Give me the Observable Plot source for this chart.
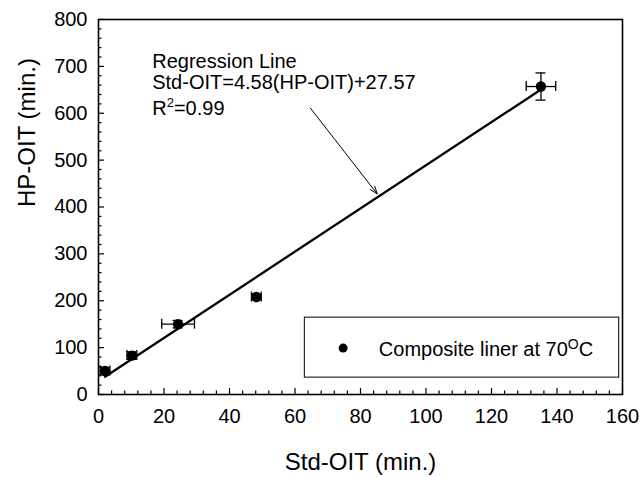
<!DOCTYPE html>
<html>
<head>
<meta charset="utf-8">
<script src="https://cdn.jsdelivr.net/npm/d3@7"></script>
<script src="https://cdn.jsdelivr.net/npm/@observablehq/plot@0.6"></script>
<style>
  html, body { margin: 0; padding: 0; background: #fff; }
  #chart { width: 641px; height: 477px; }
</style>
</head>
<body>
<div id="chart"></div>
<script>
// ---- data ----
const stdOIT = [2, 10.2, 24.3, 48.2, 135.1];      // x (min.)
const hpOIT  = [50, 83, 150, 208, 657];           // y (min.)
const stdErr = [1.5, 1.5, 5, 1.5, 4.5];           // x error
const hpErr  = [8, 8, 8, 6, 29];                  // y error

const regX = [2, 135];
const regY = [38, 650];

const arrowFrom = [64.7, 611];
const arrowTo   = [85.1, 428];

const annotText = ["Regression Line", "Std-OIT=4.58(HP-OIT)+27.57", "R²=0.99"];
const annotX = [16.4, 16.4, 16.4];
const annotY = [697, 651, 597];

const legendBox = [63, 159, 36, 164];   // x1, x2, y1, y2
const legendDot = [74.7, 99];
const legendLabel = "Composite liner at 70ᴼC";
const legendLabelPos = [85.6, 95];

const xTicks = [0, 20, 40, 60, 80, 100, 120, 140, 160];
const yTicks = [0, 100, 200, 300, 400, 500, 600, 700, 800];
const xTitle = "Std-OIT (min.)";
const yTitle = "HP-OIT (min.)";

const pts = stdOIT.map((x, i) => ({x, y: hpOIT[i], ex: stdErr[i], ey: hpErr[i]}));
const reg = regX.map((x, i) => ({x, y: regY[i]}));
const xMinor = d3.range(0, 161, 4).filter(v => v % 20 !== 0);
const yMinor = d3.range(0, 801, 20).filter(v => v % 100 !== 0);

const font = "'Liberation Sans', Arial, Helvetica, sans-serif";

const svg = Plot.plot({
  width: 641,
  height: 477,
  marginLeft: 98,
  marginRight: 19,
  marginTop: 19,
  marginBottom: 83,
  x: {domain: [0, 160]},
  y: {domain: [0, 800]},
  style: {fontFamily: font, fontSize: "20px", color: "black", background: "white"},
  marks: [
    // legend box
    Plot.rect([legendBox], {x1: d => d[0], x2: d => d[1], y1: d => d[2], y2: d => d[3], fill: "white", stroke: "black", strokeWidth: 1}),
    Plot.dot([legendDot], {x: d => d[0], y: d => d[1], r: 4.5, fill: "black"}),
    Plot.text([legendLabelPos], {x: d => d[0], y: d => d[1], text: () => legendLabel, textAnchor: "start", lineAnchor: "middle", fontSize: 20}),
    // ticks
    Plot.ruleX(xTicks, {x: d => d, y1: 0, y2: 0, insetTop: -6, insetBottom: 0, stroke: "black", strokeWidth: 1.2}),
    Plot.ruleX(xMinor, {x: d => d, y1: 0, y2: 0, insetTop: -3.5, insetBottom: 0, stroke: "black", strokeWidth: 1.2}),
    Plot.ruleY(yTicks, {y: d => d, x1: 0, x2: 0, insetLeft: 0, insetRight: -6, stroke: "black", strokeWidth: 1.2}),
    Plot.ruleY(yMinor, {y: d => d, x1: 0, x2: 0, insetLeft: 0, insetRight: -3.5, stroke: "black", strokeWidth: 1.2}),
    Plot.axisX({ticks: xTicks, tickSize: 0, tickPadding: 14, fontSize: 20, label: null}),
    Plot.axisY({ticks: yTicks, tickSize: 0, tickPadding: 11, fontSize: 20, label: null}),
    Plot.frame({stroke: "black", strokeWidth: 1.6}),
    // regression line
    Plot.line(reg, {x: "x", y: "y", stroke: "black", strokeWidth: 2.3}),
    // error bars
    Plot.ruleY(pts, {y: "y", x1: d => d.x - d.ex, x2: d => d.x + d.ex, stroke: "black", strokeWidth: 1.3}),
    Plot.ruleX(pts, {x: "x", y1: d => d.y - d.ey, y2: d => d.y + d.ey, stroke: "black", strokeWidth: 1.3}),
    Plot.ruleX(pts, {x: d => d.x - d.ex, y1: "y", y2: "y", insetTop: -5, insetBottom: -5, stroke: "black", strokeWidth: 1.3}),
    Plot.ruleX(pts, {x: d => d.x + d.ex, y1: "y", y2: "y", insetTop: -5, insetBottom: -5, stroke: "black", strokeWidth: 1.3}),
    Plot.ruleY(pts, {y: d => d.y - d.ey, x1: "x", x2: "x", insetLeft: -5, insetRight: -5, stroke: "black", strokeWidth: 1.3}),
    Plot.ruleY(pts, {y: d => d.y + d.ey, x1: "x", x2: "x", insetLeft: -5, insetRight: -5, stroke: "black", strokeWidth: 1.3}),
    Plot.dot(pts, {x: "x", y: "y", r: 5.2, fill: "black"}),
    // annotation
    Plot.arrow([{}], {x1: () => arrowFrom[0], y1: () => arrowFrom[1], x2: () => arrowTo[0], y2: () => arrowTo[1], stroke: "black", strokeWidth: 1, headLength: 12, headAngle: 40}),
    Plot.text(annotText, {x: (d, i) => annotX[i], y: (d, i) => annotY[i], text: d => d, textAnchor: "start", lineAnchor: "bottom", fontSize: 20}),
    // axis titles
    Plot.text([xTitle], {frameAnchor: "bottom", text: d => d, dy: 68, lineAnchor: "middle", fontSize: 24}),
    Plot.text([yTitle], {frameAnchor: "left", text: d => d, dx: -71, rotate: -90, lineAnchor: "middle", fontSize: 24})
  ]
});

// superscripts (shifts in px so the baseline returns exactly)
d3.select(svg).selectAll("text").each(function() {
  const t = d3.select(this);
  const s = this.textContent;
  if (s === "R²=0.99") {
    t.text(null);
    t.append("tspan").text("R");
    t.append("tspan").attr("dy", "-8").attr("font-size", "13").text("2");
    t.append("tspan").attr("dy", "8").text("=0.99");
  } else if (s === legendLabel) {
    t.text(null);
    t.append("tspan").text("Composite liner at 70");
    t.append("tspan").attr("dy", "-7").attr("font-size", "14").text("O");
    t.append("tspan").attr("dy", "7").text("C");
  }
});

document.getElementById("chart").appendChild(svg);
</script>
</body>
</html>
